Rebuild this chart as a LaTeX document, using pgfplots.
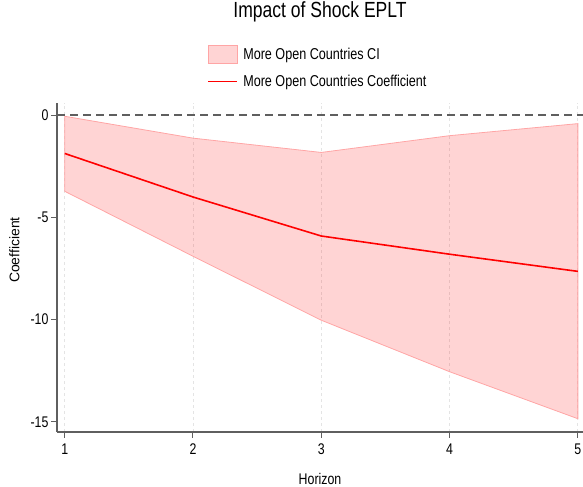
\documentclass[border=0pt]{standalone}
\usepackage{fontspec}
\setmainfont{Liberation Sans}[FakeStretch=0.8]
\newfontfamily\normalwidth{Liberation Sans}
\usepackage{pgfplots}
\pgfplotsset{compat=1.18}
\definecolor{ciedge}{RGB}{255,165,165}
\definecolor{axgray}{RGB}{95,95,95}
\definecolor{gridgray}{RGB}{228,228,228}
\pgfplotsset{
  arealeg/.style={legend image code/.code={\filldraw[##1] (0bp,-9bp) rectangle (29bp,9bp);}},
  lineleg/.style={legend image code/.code={\path[fill=red, draw=none] (0bp,-0.85bp) rectangle (29bp,0.85bp);}},
}
\begin{document}
\begin{tikzpicture}[x=1bp,y=1bp]
\path[use as bounding box] (0,0) rectangle (583,487);
\begin{axis}[
  at={(57bp,55bp)}, anchor=south west,
  scale only axis, width=526bp, height=329bp,
  xmin=0.94, xmax=5.04, ymin=-15.5, ymax=0.6,
  axis lines*=left,
  axis line style={axgray, line width=1.3bp},
  xtick={1,2,3,4,5},
  xticklabels={\mbox{1},\mbox{2},\mbox{3},\mbox{4},\mbox{5}},
  ytick={-15,-10,-5,0},
  yticklabels={\mbox{-15},\mbox{-10},\mbox{-5},\mbox{0}},
  tick align=outside,
  major tick length=6bp,
  tick style={axgray, line width=1bp},
  ticklabel style={font=\fontsize{15.5}{18}\selectfont},
  xticklabel style={yshift=-2bp},
  yticklabel style={xshift=1bp},
  xmajorgrids,
  grid style={gridgray, dashed, line width=0.8bp},
  xlabel={Horizon},
  xlabel style={font=\fontsize{15.5}{18}\selectfont, at={(axis description cs:0.5,0)}, anchor=base, yshift=-53bp},
  ylabel={\normalwidth Coefficient},
  ylabel style={font=\fontsize{14}{16}\selectfont, at={(axis description cs:-0.0808,0.553)}, anchor=center},
  title={Impact of Shock EPLT},
  title style={font=\fontsize{22}{26}\selectfont, at={(axis description cs:0.5,1)}, anchor=base, yshift=80bp},
  legend style={draw=none, fill=none, at={(axis description cs:0.281,1.182)}, anchor=north west,
    font=\fontsize{15.8}{18}\selectfont, row sep=9.5bp,
    nodes={inner sep=1.5bp, anchor=west},
    /tikz/every odd column/.append style={column sep=4bp}},
  legend cell align=left,
]
\addplot[draw=ciedge, line width=0.8bp, fill=red, fill opacity=0.17, arealeg]
  coordinates {(1,-0.05) (2,-1.12) (3,-1.82) (4,-1.0) (5,-0.41)
               (5,-14.85) (4,-12.55) (3,-10.03) (2,-6.9) (1,-3.72)} -- cycle;
\addlegendentry{More Open Countries CI}
\addplot[color=red, line width=1.6bp, lineleg]
  coordinates {(1,-1.87) (2,-4.0) (3,-5.91) (4,-6.8) (5,-7.64)};
\addlegendentry{More Open Countries Coefficient}
\addplot[forget plot, axgray, line width=1.8bp, dash pattern=on 8bp off 5bp]
  coordinates {(0.94,0) (5.04,0)};
\end{axis}
\end{tikzpicture}
\end{document}
